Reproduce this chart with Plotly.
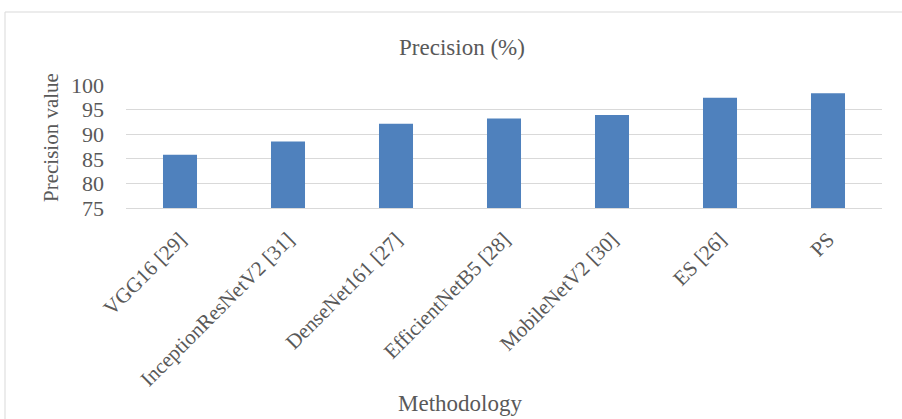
import plotly.graph_objects as go

categories = ["VGG16 [29]", "InceptionResNetV2 [31]", "DenseNet161 [27]",
              "EfficientNetB5 [28]", "MobileNetV2 [30]", "ES [26]", "PS"]
precision = [85.8, 88.5, 92.1, 93.2, 93.9, 97.4, 98.3]
y_ticks = [75, 80, 85, 90, 95, 100]

W, H = 902, 419
L, R, T, B = 126, 20, 85, 211
pw, ph = W - L - R, H - T - B

def px_x(x):
    return (x - L) / pw

def px_y(y):
    return (H - B - y) / ph

txt = "#595959"
font = "Liberation Serif, Times New Roman, serif"

fig = go.Figure(go.Bar(
    x=categories, y=precision,
    marker=dict(color="#4f81bd", line=dict(width=0)),
    width=0.315,
))

fig.update_layout(
    width=W, height=H,
    margin=dict(l=L, r=R, t=T, b=B),
    paper_bgcolor="white", plot_bgcolor="white",
    showlegend=False,
    font=dict(family=font, color=txt, size=21),
    title=dict(text="Precision (%)", x=462 / W, xanchor="center",
               y=1 - 47 / H, yanchor="middle",
               font=dict(family=font, size=23, color=txt)),
    xaxis=dict(tickangle=-45, showgrid=False, showline=True,
               linecolor="#d9d9d9", linewidth=1, ticks="",
               ticklabelstandoff=10,
               tickfont=dict(size=21, color=txt)),
    yaxis=dict(range=[75, 100], tickvals=y_ticks, showgrid=True,
               gridcolor="#d9d9d9", gridwidth=1, zeroline=False,
               ticks="", ticklabelstandoff=21,
               tickfont=dict(size=22, color=txt)),
    annotations=[
        dict(text="Precision value", xref="paper", yref="paper",
             x=px_x(51), y=px_y(138), xanchor="center", yanchor="middle",
             textangle=-90, showarrow=False,
             font=dict(family=font, size=21, color=txt)),
        dict(text="Methodology", xref="paper", yref="paper",
             x=px_x(460), y=px_y(403), xanchor="center", yanchor="middle",
             showarrow=False, font=dict(family=font, size=23, color=txt)),
    ],
    shapes=[dict(type="rect", xref="paper", yref="paper",
                 x0=px_x(5), x1=px_x(910), y0=px_y(430), y1=px_y(12),
                 line=dict(color="#d9d9d9", width=1), layer="below")],
)

fig.write_html("out.html", config={"displayModeBar": False},
               post_script="document.body.style.margin='0';document.body.style.overflow='hidden';")
